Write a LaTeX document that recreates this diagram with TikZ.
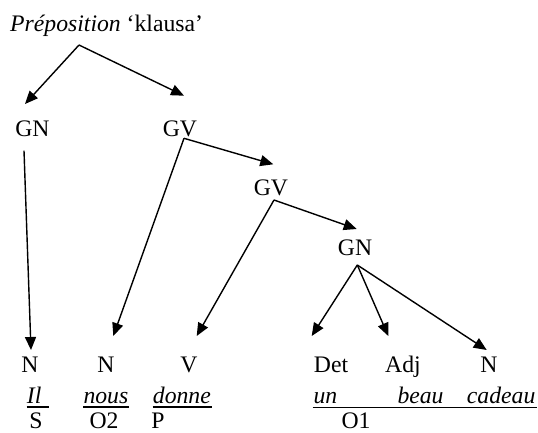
\documentclass[tikz,border=0pt]{standalone}
\usepackage{fontspec}
\setmainfont{Liberation Serif}
\usetikzlibrary{arrows.meta}
\tikzset{
  lbl/.style={inner sep=0pt, anchor=base, font=\fontsize{23.7}{28}\selectfont},
  lblw/.style={lbl, anchor=base west},
  arr/.style={line width=1.4pt, -{Triangle[length=13pt,width=11pt]}},
  uline/.style={line width=1.6pt}
}
\begin{document}
\begin{tikzpicture}[x=1pt,y=-1pt]
\useasboundingbox (0,0) rectangle (538,432);
% title
\node[lblw] (title) at (10,31.7) {\textit{Préposition} ‘klausa’};
\coordinate (root) at (79,45);
% intermediate labels
\node[lbl] (gn1) at (32.5,136.7) {GN};
\node[lbl] (gv1) at (180,136.7) {GV};
\node[lbl] (gv2) at (271,195) {GV};
\node[lbl] (gn2) at (355,255) {GN};
% row 1
\node[lbl] (n1) at (30,372.7) {N};
\node[lbl] (n2) at (106,372.7) {N};
\node[lbl] (v) at (189,372.7) {V};
\node[lbl] (det) at (331,372.7) {Det};
\node[lbl] (adj) at (403,372.7) {Adj};
\node[lbl] (n3) at (489,372.7) {N};
% row 2
\node[lblw] (il) at (26.7,403.3) {\textit{Il}};
\node[lblw] (nous) at (83.3,403.3) {\textit{nous}};
\node[lblw] (donne) at (152.7,403.3) {\textit{donne}};
\node[lblw] (un) at (313.3,403.3) {\textit{un}};
\node[lblw] (beau) at (397.3,403.3) {\textit{beau}};
\node[lblw] (cadeau) at (466.7,403.3) {\textit{cadeau}};
% row 3
\node[lbl] (s) at (36,428) {S};
\node[lbl] (o2) at (104,428) {O2};
\node[lbl] (p) at (158,428) {P};
\node[lbl] (o1) at (356,428) {O1};
% arrow endpoints
\coordinate (gn1b) at (24,150.7);
\coordinate (gv1b) at (184,138.3);
\coordinate (gv2b) at (274,200);
\coordinate (gn2b) at (357.3,265);
\coordinate (tgn1) at (25,104);
\coordinate (tgv1) at (184,95.7);
\coordinate (tn1) at (31,350);
\coordinate (tn2) at (113.3,336);
\coordinate (tgv2) at (273.3,164.3);
\coordinate (tv) at (196.7,336);
\coordinate (tgn2) at (356.7,229);
\coordinate (tdet) at (311.7,336);
\coordinate (tadj) at (388.3,336);
\coordinate (tn3) at (486.7,350);
% arrows
\draw[arr] (root) -- (tgn1);
\draw[arr] (root) -- (tgv1);
\draw[arr] (gn1b) -- (tn1);
\draw[arr] (gv1b) -- (tn2);
\draw[arr] (gv1b) -- (tgv2);
\draw[arr] (gv2b) -- (tv);
\draw[arr] (gv2b) -- (tgn2);
\draw[arr] (gn2b) -- (tdet);
\draw[arr] (gn2b) -- (tadj);
\draw[arr] (gn2b) -- (tn3);
% underlines
\coordinate (u1a) at (26.7,406.9); \coordinate (u1b) at (49.3,406.9);
\coordinate (u2a) at (83.3,406.9); \coordinate (u2b) at (129.3,406.9);
\coordinate (u3a) at (152.7,406.9); \coordinate (u3b) at (212.3,406.9);
\coordinate (u4a) at (312.7,407.5); \coordinate (u4b) at (536.7,407.5);
\draw[uline] (u1a) -- (u1b);
\draw[uline] (u2a) -- (u2b);
\draw[uline] (u3a) -- (u3b);
\draw[uline] (u4a) -- (u4b);
\end{tikzpicture}
\end{document}
